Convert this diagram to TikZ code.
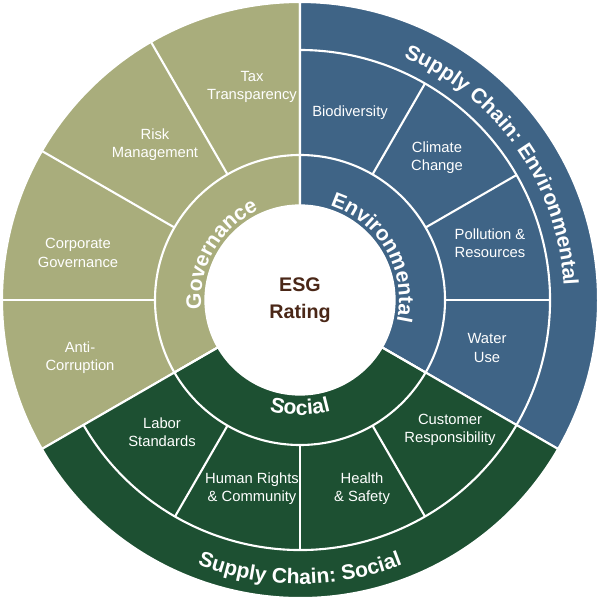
\documentclass[tikz,border=0pt]{standalone}
\usepackage{fontspec}
\setmainfont{Liberation Sans}
\usetikzlibrary{decorations.text}
\definecolor{govcol}{HTML}{A9AD7C}
\definecolor{envcol}{HTML}{3F6486}
\definecolor{soccol}{HTML}{1D5032}
\definecolor{esgbrown}{HTML}{4A2717}
\tikzset{
  sector/.style={draw=white,line width=1.5pt},
  leaf/.style={text=white,align=center,font=\fontsize{10.5}{13}\selectfont},
  ring/.style={decorate,decoration={text along path,text align=center,
    text={|\fontsize{15}{15}\bfseries\color{white}|#1}}},
}
\begin{document}
\begin{tikzpicture}[x=0.025cm,y=0.025cm]
\useasboundingbox (-300,-302) rectangle (300,300);
% outer sectors
\path[sector,fill=govcol] (0,0) -- (90:298) arc (90:210:298) -- cycle;
\path[sector,fill=envcol] (0,0) -- (-30:298) arc (-30:90:298) -- cycle;
\path[sector,fill=soccol] (0,0) -- (210:298) arc (210:330:298) -- cycle;
% supply chain bands
\path[draw=white,line width=1.5pt] (-30:250) arc (-30:90:250);
\path[draw=white,line width=1.5pt] (210:250) arc (210:330:250);
% subdivisions
\foreach \a in {120,150,180} \path[draw=white,line width=1.5pt] (\a:145) -- (\a:298);
\foreach \a in {0,30,60} \path[draw=white,line width=1.5pt] (\a:145) -- (\a:250);
\foreach \a in {240,270,300} \path[draw=white,line width=1.5pt] (\a:145) -- (\a:250);
% inner ring
\path[draw=white,line width=1.5pt] (0,0) circle (145);
\foreach \a in {90,210,330} \path[draw=white,line width=1.5pt] (\a:68) -- (\a:145);
\node[circle,fill=white,minimum size=136,inner sep=0] (esg) at (0,0) {};
\node[text=esgbrown,align=center,font=\fontsize{14}{19}\bfseries\selectfont] (rating) at (0,0) {ESG\\Rating};
% ring labels
\path[ring=Governance] (200:99) arc (200:100:99);
\path[ring=Environmental] (80:99) arc (80:-20:99);
\path[ring=Social] (240:115) arc (240:300:115);
\path[ring=Supply Chain: Environmental] (88:264) arc (88:-18:264);
\path[ring=Supply Chain: Social] (235:284) arc (235:305:284);
% leaf labels
\node[leaf] (tax) at (-48,213) {Tax\\Transparency};
\node[leaf] (risk) at (-145,155) {Risk\\Management};
\node[leaf] (corp) at (-222,47) {Corporate\\Governance};
\node[leaf] (anti) at (-220,-58) {Anti-\\Corruption};
\node[leaf] (bio) at (50,187) {Biodiversity};
\node[leaf] (climate) at (137,142) {Climate\\Change};
\node[leaf] (pollution) at (190,57) {Pollution \&\\Resources};
\node[leaf] (water) at (187,-48) {Water\\Use};
\node[leaf] (labor) at (-138,-132) {Labor\\Standards};
\node[leaf] (human) at (-48,-189) {Human Rights\\\& Community};
\node[leaf] (health) at (62,-189) {Health\\\& Safety};
\node[leaf] (customer) at (150,-130) {Customer\\Responsibility};
\end{tikzpicture}
\end{document}
